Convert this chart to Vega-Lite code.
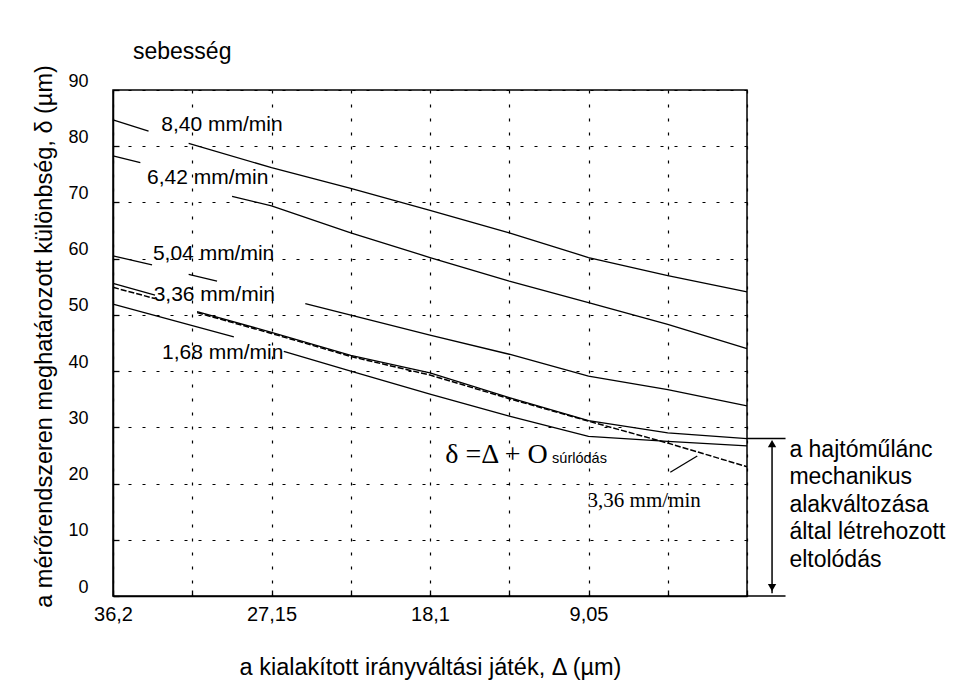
{
  "$schema": "https://vega.github.io/schema/vega-lite/v6.json",
  "width": 634,
  "height": 506,
  "autosize": "none",
  "padding": {"left": 113, "top": 90, "right": 219, "bottom": 86},
  "background": "white",
  "title": {"text": "sebesség", "anchor": "start", "frame": "group", "dx": 20, "offset": 1, "font": "Liberation Sans", "fontSize": 23, "fontWeight": "normal", "color": "black"},
  "config": {
    "view": {"stroke": "black", "strokeWidth": 1.5},
    "font": "Liberation Sans",
    "axis": {"labelFont": "Liberation Sans", "titleFont": "Liberation Sans", "labelColor": "black", "titleColor": "black", "titleFontWeight": "normal", "domainColor": "black", "domainWidth": 1.5, "gridColor": "black", "gridOpacity": 1, "gridWidth": 1.2, "gridDash": [3, 11], "tickColor": "black", "tickWidth": 1.3, "labelFlush": false, "labelOverlap": false}
  },
  "datasets": {
    "solid": [
      {"key": "8.40a", "x": 36.2, "y": 84.7}, {"key": "8.40a", "x": 34.17, "y": 82.7},
      {"key": "8.40b", "x": 31.88, "y": 80.5}, {"key": "8.40b", "x": 27.15, "y": 76.2}, {"key": "8.40b", "x": 22.625, "y": 72.5}, {"key": "8.40b", "x": 18.1, "y": 68.6}, {"key": "8.40b", "x": 13.575, "y": 64.6}, {"key": "8.40b", "x": 9.05, "y": 60.2}, {"key": "8.40b", "x": 4.525, "y": 57.0}, {"key": "8.40b", "x": 0, "y": 54.1},
      {"key": "6.42a", "x": 36.2, "y": 78.3}, {"key": "6.42a", "x": 34.64, "y": 77.1},
      {"key": "6.42b", "x": 29.4, "y": 71.1}, {"key": "6.42b", "x": 27.15, "y": 69.4}, {"key": "6.42b", "x": 22.625, "y": 64.6}, {"key": "6.42b", "x": 18.1, "y": 60.2}, {"key": "6.42b", "x": 13.575, "y": 56.0}, {"key": "6.42b", "x": 9.05, "y": 52.2}, {"key": "6.42b", "x": 4.525, "y": 48.3}, {"key": "6.42b", "x": 0, "y": 44.0},
      {"key": "5.04a", "x": 36.2, "y": 60.5}, {"key": "5.04a", "x": 33.97, "y": 58.9},
      {"key": "5.04b", "x": 31.88, "y": 57.2}, {"key": "5.04b", "x": 30.26, "y": 56.0},
      {"key": "5.04c", "x": 25.22, "y": 52.0}, {"key": "5.04c", "x": 18.1, "y": 46.4}, {"key": "5.04c", "x": 13.575, "y": 43.0}, {"key": "5.04c", "x": 9.05, "y": 39.1}, {"key": "5.04c", "x": 4.525, "y": 36.7}, {"key": "5.04c", "x": 0, "y": 33.8},
      {"key": "3.36a", "x": 36.2, "y": 55.6}, {"key": "3.36a", "x": 33.8, "y": 53.5},
      {"key": "3.36b", "x": 31.4, "y": 50.6}, {"key": "3.36b", "x": 27.15, "y": 46.9}, {"key": "3.36b", "x": 22.625, "y": 42.8}, {"key": "3.36b", "x": 18.1, "y": 39.7}, {"key": "3.36b", "x": 13.575, "y": 35.3}, {"key": "3.36b", "x": 9.05, "y": 31.2}, {"key": "3.36b", "x": 4.525, "y": 29.0}, {"key": "3.36b", "x": 0, "y": 28.0},
      {"key": "1.68a", "x": 36.2, "y": 51.9}, {"key": "1.68a", "x": 29.3, "y": 46.1},
      {"key": "1.68b", "x": 26.45, "y": 43.5}, {"key": "1.68b", "x": 22.625, "y": 40.0}, {"key": "1.68b", "x": 18.1, "y": 35.9}, {"key": "1.68b", "x": 13.575, "y": 32.0}, {"key": "1.68b", "x": 9.05, "y": 28.4}, {"key": "1.68b", "x": 4.525, "y": 27.5}, {"key": "1.68b", "x": 0, "y": 26.7},
      {"key": "pointer", "x": 4.38, "y": 22.0}, {"key": "pointer", "x": 2.84, "y": 24.9}
    ],
    "dashed": [
      {"key": "da", "x": 36.2, "y": 54.9}, {"key": "da", "x": 33.8, "y": 52.9},
      {"key": "db", "x": 31.4, "y": 50.4}, {"key": "db", "x": 27.15, "y": 46.7}, {"key": "db", "x": 22.625, "y": 42.6}, {"key": "db", "x": 18.1, "y": 39.3}, {"key": "db", "x": 13.575, "y": 35.1}, {"key": "db", "x": 9.05, "y": 31.1}, {"key": "db", "x": 4.525, "y": 27.2}, {"key": "db", "x": 0, "y": 23.0}
    ],
    "rules": [
      {"x": -1.43, "x2": -1.43, "y": 0.5, "y2": 27.3},
      {"x": 0, "x2": -2.2, "y": 28.0, "y2": 28.0},
      {"x": 0, "x2": -2.2, "y": 0, "y2": 0}
    ],
    "heads": [
      {"x": -1.43, "y": 27.1, "dir": "up"},
      {"x": -1.43, "y": 1.5, "dir": "down"}
    ],
    "speedLabels": [
      {"label": "8,40 mm/min", "x": 33.44, "y": 83.7},
      {"label": "6,42 mm/min", "x": 34.26, "y": 74.3},
      {"label": "5,04 mm/min", "x": 33.92, "y": 60.8},
      {"label": "3,36 mm/min", "x": 33.88, "y": 53.6},
      {"label": "1,68 mm/min", "x": 33.4, "y": 43.3}
    ],
    "serifLabels": [
      {"label": "δ =Δ + O", "x": 17.23, "y": 23.67, "size": "big"},
      {"label": "3,36 mm/min", "x": 9.1, "y": 15.9, "size": "small"}
    ],
    "subLabels": [
      {"label": "súrlódás", "x": 11.13, "y": 23.6}
    ],
    "notes": [
      {"label": "a hajtóműlánc\nmechanikus\nalakváltozása\náltal létrehozott\neltolódás", "x": -2.42, "y": 24.8}
    ]
  },
  "layer": [
    {
      "data": {"name": "solid"},
      "mark": {"type": "line", "color": "black", "strokeWidth": 1.3},
      "encoding": {
        "x": {"field": "x", "type": "quantitative",
          "scale": {"domain": [0, 36.2], "reverse": true, "nice": false, "zero": false},
          "axis": {"values": [0, 4.525, 9.05, 13.575, 18.1, 22.625, 27.15, 31.675, 36.2],
            "labelExpr": "indexof([36.2, 27.15, 18.1, 9.05], datum.value) >= 0 ? replace('' + datum.value, '.', ',') : ''",
            "grid": true, "ticks": true, "tickSize": -6, "labelFontSize": 20, "labelPadding": 14,
            "title": "a kialakított irányváltási játék, Δ (µm)", "titleFontSize": 23.5, "titleY": 59, "titleBaseline": "top"}},
        "y": {"field": "y", "type": "quantitative",
          "scale": {"domain": [0, 90], "nice": false, "zero": false},
          "axis": {"values": [0, 10, 20, 30, 40, 50, 60, 70, 80, 90], "grid": true, "ticks": true, "tickSize": -6,
            "labelFontSize": 18, "labelPadding": 31, "labelOffset": -9,
            "title": "a mérőrendszeren meghatározott különbség, δ (µm)", "titleFontSize": 23.5,
            "titleX": -69, "titleY": 246, "titleBaseline": "middle"}},
        "detail": {"field": "key"}
      }
    },
    {
      "data": {"name": "dashed"},
      "mark": {"type": "line", "color": "black", "strokeWidth": 1.5, "strokeDash": [6, 2]},
      "encoding": {
        "x": {"field": "x", "type": "quantitative"},
        "y": {"field": "y", "type": "quantitative"},
        "detail": {"field": "key"}
      }
    },
    {
      "data": {"name": "rules"},
      "mark": {"type": "rule", "color": "black", "strokeWidth": 1.5},
      "encoding": {
        "x": {"field": "x", "type": "quantitative"},
        "x2": {"field": "x2"},
        "y": {"field": "y", "type": "quantitative"},
        "y2": {"field": "y2"}
      }
    },
    {
      "data": {"name": "heads"},
      "mark": {"type": "point", "filled": true, "color": "black", "size": 70, "opacity": 1},
      "encoding": {
        "x": {"field": "x", "type": "quantitative"},
        "y": {"field": "y", "type": "quantitative"},
        "shape": {"field": "dir", "type": "nominal", "scale": {"domain": ["up", "down"], "range": ["triangle-up", "triangle-down"]}, "legend": null}
      }
    },
    {
      "data": {"name": "speedLabels"},
      "mark": {"type": "text", "align": "left", "baseline": "middle", "font": "Liberation Sans", "fontSize": 21, "color": "black"},
      "encoding": {
        "x": {"field": "x", "type": "quantitative"},
        "y": {"field": "y", "type": "quantitative"},
        "text": {"field": "label"}
      }
    },
    {
      "data": {"name": "serifLabels"},
      "mark": {"type": "text", "align": "left", "baseline": "alphabetic", "font": "Liberation Serif", "color": "black"},
      "encoding": {
        "x": {"field": "x", "type": "quantitative"},
        "y": {"field": "y", "type": "quantitative"},
        "text": {"field": "label"},
        "size": {"field": "size", "type": "nominal", "scale": {"domain": ["big", "small"], "range": [28, 21]}, "legend": null}
      }
    },
    {
      "data": {"name": "subLabels"},
      "mark": {"type": "text", "align": "left", "baseline": "alphabetic", "font": "Liberation Sans", "fontSize": 14.5, "color": "black"},
      "encoding": {
        "x": {"field": "x", "type": "quantitative"},
        "y": {"field": "y", "type": "quantitative"},
        "text": {"field": "label"}
      }
    },
    {
      "data": {"name": "notes"},
      "mark": {"type": "text", "align": "left", "baseline": "alphabetic", "font": "Liberation Sans", "fontSize": 23, "lineHeight": 27.5, "lineBreak": "\n", "color": "black"},
      "encoding": {
        "x": {"field": "x", "type": "quantitative"},
        "y": {"field": "y", "type": "quantitative"},
        "text": {"field": "label"}
      }
    }
  ]
}
